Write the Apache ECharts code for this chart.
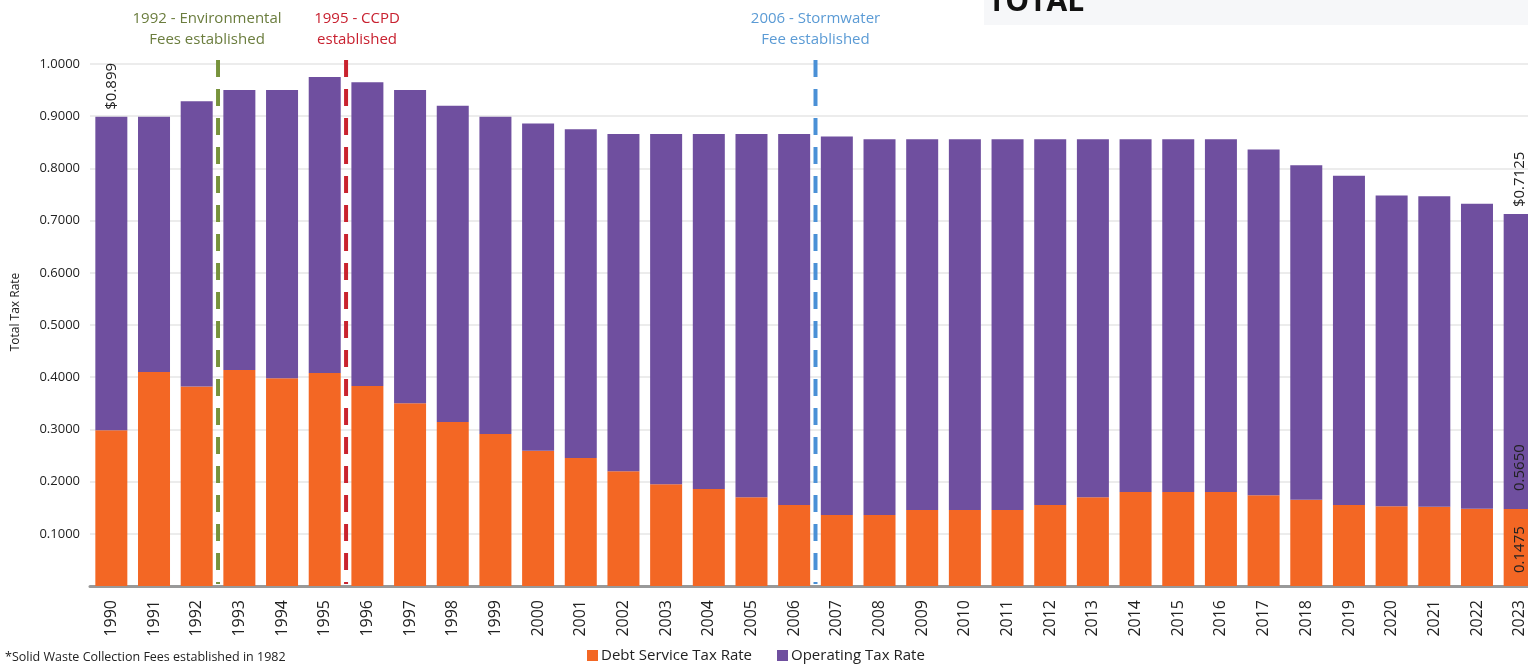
<!DOCTYPE html>
<html>
<head>
<meta charset="utf-8">
<script src="https://cdn.jsdelivr.net/npm/echarts@6/dist/echarts.min.js"></script>
<style>
html,body{margin:0;padding:0;background:#fff;}
#c{width:1528px;height:666px;}
</style>
</head>
<body>
<div id="c"></div>
<script>
const years = ['1990','1991','1992','1993','1994','1995','1996','1997','1998','1999','2000','2001','2002','2003','2004','2005','2006','2007','2008','2009','2010','2011','2012','2013','2014','2015','2016','2017','2018','2019','2020','2021','2022','2023'];
const debtService = [0.2985,0.410,0.382,0.414,0.398,0.408,0.383,0.350,0.314,0.291,0.259,0.245,0.220,0.195,0.186,0.170,0.155,0.136,0.136,0.1455,0.1455,0.1455,0.155,0.170,0.180,0.180,0.180,0.174,0.165,0.155,0.153,0.152,0.148,0.1475];
const operating = [0.6005,0.489,0.5465,0.536,0.552,0.567,0.582,0.600,0.606,0.608,0.627,0.630,0.646,0.671,0.680,0.696,0.711,0.725,0.720,0.7105,0.7105,0.7105,0.701,0.686,0.676,0.676,0.676,0.662,0.641,0.631,0.595,0.5945,0.5845,0.565];
const yTicks = [0.1,0.2,0.3,0.4,0.5,0.6,0.7,0.8,0.9,1.0];
const eventPositions = [2.5, 5.5, 16.5];
const eventTexts = ['1992 - Environmental\nFees established', '1995 - CCPD\nestablished', '2006 - Stormwater\nFee established'];
const totalLabels = {0: '$0.899', 33: '$0.7125'};
const segmentLabels = {33: ['0.1475', '0.5650']};
const footnote = '*Solid Waste Collection Fees established in 1982';

// styles
const lineColors = ['#77933c', '#c9232e', '#4a90d6'];
const textColors = ['#6b7d3e', '#c8202f', '#5b9bd5'];
const textOffsets = [-11, 11, 0];
const DASH = 17, GAP = 12;
const FONT = '"Open Sans", "Noto Sans", sans-serif';

const chart = echarts.init(document.getElementById('c'), null, {renderer: 'canvas'});

const debtData = debtService.map((v, i) => {
  if (segmentLabels[i]) {
    return {value: v, label: {show: true, position: 'insideBottom', rotate: 90, align: 'left', verticalAlign: 'middle', distance: 13, formatter: segmentLabels[i][0], color: '#222', fontSize: 15, fontFamily: FONT}};
  }
  return v;
});
const opData = operating.map((v, i) => {
  const item = {value: v};
  if (segmentLabels[i]) {
    item.label = {show: true, position: 'insideBottom', rotate: 90, align: 'left', verticalAlign: 'middle', distance: 18, formatter: segmentLabels[i][1], color: '#222', fontSize: 15, fontFamily: FONT};
  }
  return item;
});
const topLabelData = operating.map((v, i) => {
  if (totalLabels[i]) {
    return {value: 0, label: {show: true, position: 'top', rotate: 90, align: 'left', verticalAlign: 'middle', distance: 7, formatter: totalLabels[i], color: '#222', fontSize: 15, fontFamily: FONT}};
  }
  return 0;
});

const option = {
  backgroundColor: '#ffffff',
  animation: false,
  grid: {left: 90, top: 64, right: -13, bottom: 80, containLabel: false, outerBoundsMode: 'none'},
  xAxis: [
    {
      type: 'category',
      data: years,
      axisLine: {show: true, lineStyle: {color: '#999999', width: 3}},
      axisTick: {show: false},
      axisLabel: {rotate: 90, margin: 14, color: '#222', fontSize: 16, fontFamily: FONT, interval: 0},
      splitLine: {show: false}
    },
    {
      type: 'value', min: -0.5, max: 33.5, show: false
    }
  ],
  yAxis: {
    type: 'value',
    min: 0, max: 1.0, interval: 0.1,
    name: 'Total Tax Rate',
    nameLocation: 'middle',
    nameGap: 68,
    nameTextStyle: {color: '#222', fontSize: 12, fontFamily: FONT, padding: [0, 0, 0, 26]},
    axisLine: {show: false},
    axisTick: {show: false},
    axisLabel: {margin: 10, color: '#222', fontSize: 13, fontFamily: FONT,
      formatter: v => (yTicks.some(t => Math.abs(t - v) < 1e-9) ? v.toFixed(4) : '')},
    splitLine: {lineStyle: {color: '#e6e6e6', width: 1.5}}
  },
  legend: {
    data: ['Debt Service Tax Rate', 'Operating Tax Rate'],
    left: 587, top: 648,
    itemWidth: 11, itemHeight: 11, itemGap: 25,
    icon: 'rect', padding: 0,
    textStyle: {color: '#222', fontSize: 15, fontFamily: FONT, padding: [0, 0, 0, -2]}
  },
  series: [
    {
      name: 'Debt Service Tax Rate', type: 'bar', stack: 'total', barWidth: 32,
      itemStyle: {color: '#f36724'},
      data: debtData
    },
    {
      name: 'Operating Tax Rate', type: 'bar', stack: 'total', barWidth: 32,
      itemStyle: {color: '#6f4f9f'},
      data: opData
    },
    {
      name: 'totals', type: 'bar', stack: 'total', barWidth: 32,
      itemStyle: {color: 'transparent'}, silent: true,
      data: topLabelData
    },
    {
      name: 'events', type: 'custom', xAxisIndex: 1, yAxisIndex: 0, clip: false, silent: true, z: 5,
      data: eventPositions.map((x, i) => [x, i]),
      renderItem: function (params, api) {
        const x = api.value(0);
        const idx = api.value(1);
        const pBottom = api.coord([x, 0]);
        const pTop = api.coord([x, 1.0]);
        const children = [];
        const yStart = pTop[1] - 4, yEnd = pBottom[1] - 2;
        for (let y = yStart; y < yEnd; y += DASH + GAP) {
          children.push({type: 'line', shape: {x1: pBottom[0], y1: y, x2: pBottom[0], y2: Math.min(y + DASH, yEnd)},
            style: {stroke: lineColors[idx], lineWidth: 4}});
        }
        children.push({type: 'text', x: pBottom[0] + textOffsets[idx], y: 8,
          style: {text: eventTexts[idx], fill: textColors[idx], font: '15px ' + FONT, align: 'center', verticalAlign: 'top', lineHeight: 21}});
        return {type: 'group', children: children};
      }
    }
  ],
  graphic: [
    {type: 'rect', left: 984, top: 0, shape: {width: 544, height: 25}, style: {fill: '#f6f7f9'}, z: 10},
    {type: 'text', x: 988, y: 2, style: {text: 'TOTAL', fill: '#111', font: 'bold 30px ' + FONT, verticalAlign: 'middle'}, z: 11},
    {type: 'text', x: 5, y: 657, style: {text: footnote, fill: '#222', font: '12.5px ' + FONT, verticalAlign: 'middle'}}
  ]
};
chart.setOption(option);
</script>
</body>
</html>
